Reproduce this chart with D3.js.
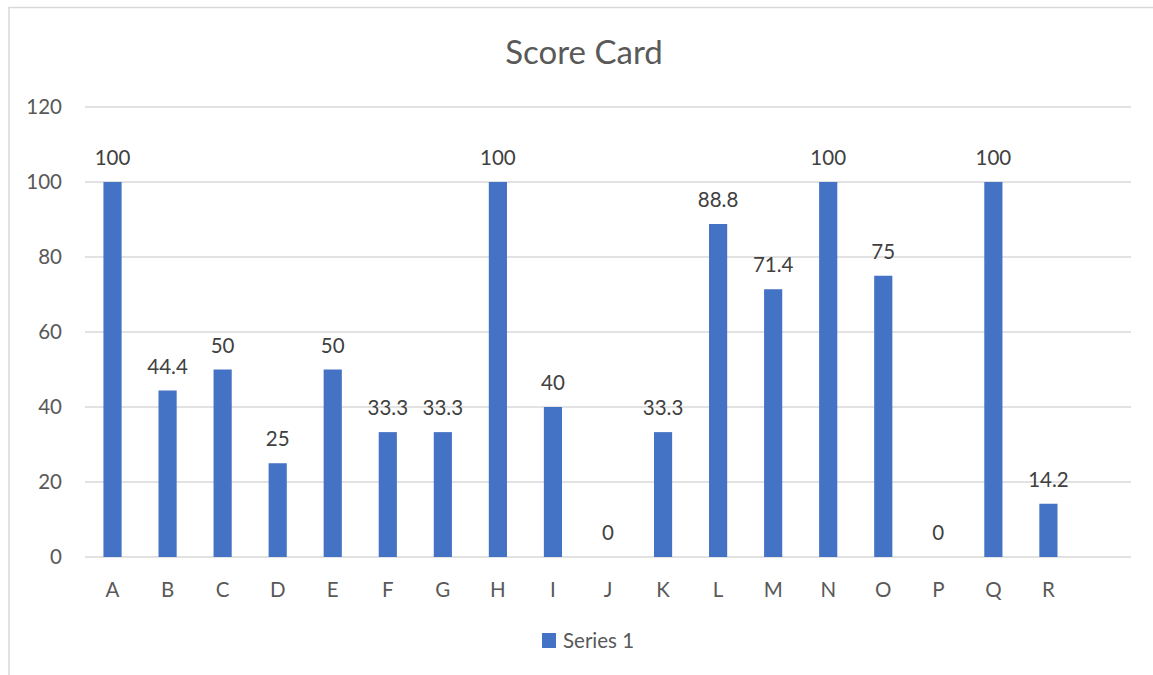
<!DOCTYPE html>
<html>
<head>
<meta charset="utf-8">
<script src="https://cdn.jsdelivr.net/npm/d3@7"></script>
<style>
  html, body { margin: 0; padding: 0; background: #fff; }
  text { font-family: Lato, "Open Sans", sans-serif; }
</style>
</head>
<body>
<div id="chart"></div>
<script>
const svgw = 1153
const svgh = 675

// chart data
const categories = ['A', 'B', 'C', 'D', 'E', 'F', 'G', 'H', 'I', 'J', 'K', 'L', 'M', 'N', 'O', 'P', 'Q', 'R']
const values = [100, 44.4, 50, 25, 50, 33.3, 33.3, 100, 40, 0, 33.3, 88.8, 71.4, 100, 75, 0, 100, 14.2]
const yTicks = [0, 20, 40, 60, 80, 100, 120]
const seriesName = 'Series 1'
const chartTitle = 'Score Card'

const data = categories.map((c, i) => ({ cat: c, val: values[i] }))

const plotLeft = 85, plotRight = 1131, plotTop = 107, plotBottom = 557
const barColor = '#4472C4'
const smallFont = '20.5px'

const svg = d3.select('#chart')
    .append('svg')
    .attr('width', svgw)
    .attr('height', svgh)

// outer chart border (runs off the right/bottom edge in the original)
svg.append('rect')
    .attr('x', 9)
    .attr('y', 7.5)
    .attr('width', 1170)
    .attr('height', 700)
    .attr('fill', 'none')
    .attr('stroke', '#d9d9d9')
    .attr('stroke-width', 1.5)

// the source sheet has one extra empty slot at the end
const xScale = d3.scaleBand()
    .domain(categories.concat(['']))
    .range([plotLeft, plotRight])
    .paddingInner(0.67)
    .paddingOuter(0.335)

const yScale = d3.scaleLinear()
    .domain([0, 120])
    .range([plotBottom, plotTop])

// gridlines
svg.append('g')
    .selectAll('line')
    .data(yTicks)
    .enter()
    .append('line')
    .attr('x1', plotLeft)
    .attr('x2', plotRight)
    .attr('y1', d => yScale(d))
    .attr('y2', d => yScale(d))
    .attr('stroke', '#d9d9d9')
    .attr('stroke-width', 1.5)

// y axis labels
const yAxis = d3.axisLeft(yScale).tickValues(yTicks).tickSize(0).tickPadding(0)
svg.append('g')
    .attr('transform', `translate(62,0)`)
    .call(yAxis)
    .call(g => g.select('.domain').remove())
    .selectAll('text')
    .attr('fill', '#595959')
    .attr('font-size', smallFont)
    .attr('font-family', 'Lato, sans-serif')

// x axis labels
const xAxis = d3.axisBottom(xScale).tickSize(0).tickPadding(0)
svg.append('g')
    .attr('transform', `translate(0,${plotBottom})`)
    .call(xAxis)
    .call(g => g.select('.domain').remove())
    .selectAll('text')
    .attr('dy', null)
    .attr('y', 40)
    .attr('fill', '#595959')
    .attr('font-size', smallFont)
    .attr('font-family', 'Lato, sans-serif')

// bars
svg.selectAll('rect.bar')
    .data(data)
    .enter()
    .append('rect')
    .attr('class', 'bar')
    .attr('x', d => xScale(d.cat))
    .attr('width', xScale.bandwidth())
    .attr('y', d => yScale(d.val))
    .attr('height', d => plotBottom - yScale(d.val))
    .attr('fill', barColor)

// data labels
svg.selectAll('text.lbl')
    .data(data)
    .enter()
    .append('text')
    .attr('class', 'lbl')
    .attr('x', d => xScale(d.cat) + xScale.bandwidth() / 2)
    .attr('y', d => yScale(d.val) - 17)
    .attr('text-anchor', 'middle')
    .attr('fill', '#404040')
    .attr('font-size', smallFont)
    .text(d => d.val)

// title
svg.append('text')
    .attr('x', 584)
    .attr('y', 64)
    .attr('text-anchor', 'middle')
    .attr('fill', '#595959')
    .attr('font-size', '33px')
    .text(chartTitle)

// legend
const legend = svg.append('g')
legend.append('rect')
    .attr('x', 542)
    .attr('y', 633)
    .attr('width', 14)
    .attr('height', 15)
    .attr('fill', barColor)
legend.append('text')
    .attr('x', 563)
    .attr('y', 648)
    .attr('fill', '#595959')
    .attr('font-size', smallFont)
    .text(seriesName)
</script>
</body>
</html>
